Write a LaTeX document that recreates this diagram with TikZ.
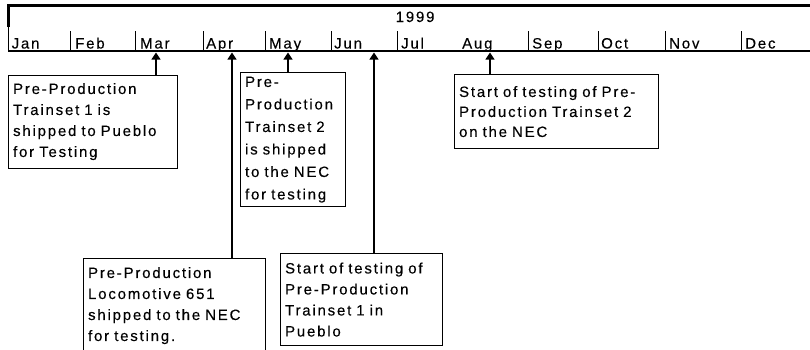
\documentclass[tikz,border=0pt]{standalone}
\usepackage{fontspec}
\setmainfont{Liberation Sans}[LetterSpace=12,FakeBold=0.2]
\usetikzlibrary{arrows.meta}

\begin{document}
\begin{tikzpicture}[x=1pt,y=-1pt,
  txt/.style={font=\fontsize{15}{21}\selectfont},
  evbox/.style={txt, draw, line width=1.2pt, rectangle, anchor=north west,
    inner xsep=4pt, inner ysep=0pt, align=left},
  arr/.style={line width=1.2pt, -{Triangle[width=9pt,length=7pt]}},
  month/.style={txt, anchor=base west, inner sep=0pt},
  sepline/.style={line width=1pt}]
\useasboundingbox (0,0) rectangle (810,349);

% timeline frame
\draw[line width=2.6pt] (7.3,5.5) -- (810,5.5);
\draw[line width=2.6pt] (8.5,4.2) -- (8.5,27);
\draw[sepline] (8.5,27) -- (8.5,51);
\draw[line width=1.2pt] (8,51) -- (810,51);
\foreach \sx in {70,135.5,203,265,331,397,528,598,665,741}
  \draw[sepline] (\sx,31) -- (\sx,51);

\node[txt, anchor=base west, inner sep=0pt] (year) at (395.5,22) {1999};

% month labels
\node[month] (jan) at (11.5,48.5) {Jan};
\node[month] (feb) at (75,48.5) {Feb};
\node[month] (mar) at (140,48.5) {Mar};
\node[month] (apr) at (206,48.5) {Apr};
\node[month] (may) at (269,48.5) {May};
\node[month] (jun) at (334,48.5) {Jun};
\node[month] (jul) at (401,48.5) {Jul};
\node[month] (aug) at (462,48.5) {Aug};
\node[month] (sep) at (532,48.5) {Sep};
\node[month] (oct) at (601,48.5) {Oct};
\node[month] (nov) at (669,48.5) {Nov};
\node[month] (dec) at (745,48.5) {Dec};

% event points on the timeline
\coordinate (tMar) at (156,52.5);
\coordinate (tApr) at (232,52.5);
\coordinate (tMay) at (288,52.5);
\coordinate (tJun) at (374,52.5);
\coordinate (tAug) at (490,52.5);

% event boxes
\node[evbox, minimum width=169pt, minimum height=93pt, text width=160pt] (b1) at (8,74.5)
  {Pre-Production\\Trainset 1 is\\shipped to Pueblo\\for Testing\\[-5pt]};
\node[evbox, minimum width=105pt, minimum height=134pt, text width=96pt,
  font=\fontsize{15}{22.5}\selectfont] (b2) at (240,72)
  {Pre-\\Production\\Trainset 2\\is shipped\\to the NEC\\for testing};
\node[evbox, minimum width=204pt, minimum height=74pt, text width=195pt,
  font=\fontsize{15}{20}\selectfont] (b3) at (454,74)
  {Start of testing of Pre-\\Production Trainset 2\\on the NEC\\[-8pt]};
\node[evbox, minimum width=182pt, minimum height=94pt, text width=173pt] (b4) at (83,258)
  {Pre-Production\\Locomotive 651\\shipped to the NEC\\for testing.};
\node[evbox, minimum width=162pt, minimum height=92pt, text width=153pt] (b5) at (280,253)
  {Start of testing of\\Pre-Production\\Trainset 1 in\\Pueblo};

% connectors
\draw[arr] (b1.north -| tMar) -- (tMar);
\draw[arr] (b4.north -| tApr) -- (tApr);
\draw[arr] (b2.north -| tMay) -- (tMay);
\draw[arr] (b5.north -| tJun) -- (tJun);
\draw[arr] (b3.north -| tAug) -- (tAug);
\end{tikzpicture}
\end{document}
